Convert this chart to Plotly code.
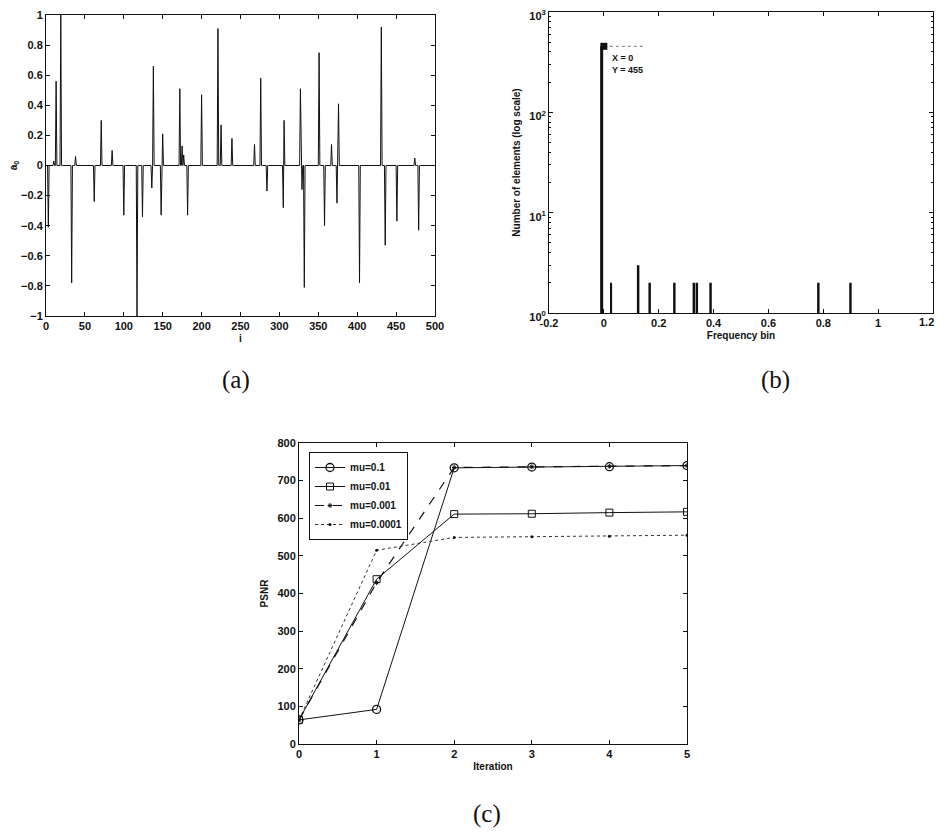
import numpy as np
import plotly.graph_objects as go

# ---------------- data ----------------
# (a) sparse signal a0 : spike indices and values
spike_idx = [3, 10, 13, 19, 33, 38, 62, 71, 85, 100, 117, 124, 136, 138, 148, 150,
             172, 175, 177, 182, 200, 221, 225, 239, 268, 276, 284, 305, 306, 327,
             329, 332, 351, 358, 367, 374, 376, 403, 431, 436, 451, 474, 479]
spike_val = [-0.41, 0.03, 0.56, 1.0, -0.78, 0.06, -0.24, 0.30, 0.10, -0.33, -1.0, -0.34,
             -0.15, 0.66, -0.33, 0.21, 0.51, 0.13, 0.07, -0.33, 0.47, 0.91, 0.27, 0.18,
             0.14, 0.58, -0.17, -0.28, 0.30, 0.51, -0.16, -0.81, 0.75, -0.40, 0.14,
             -0.25, 0.41, -0.78, 0.92, -0.53, -0.37, 0.05, -0.43]
n_samples = 500

# (b) histogram (log scale)
freq_bin = [-0.008, 0.027, 0.125, 0.167, 0.257, 0.328, 0.339, 0.389, 0.782, 0.899]
counts = [455, 2, 3, 2, 2, 2, 2, 2, 2, 2]
bar_w = [0.011, 0.006, 0.009, 0.009, 0.009, 0.009, 0.009, 0.009, 0.009, 0.009]
tip_x, tip_y = 0, 455
freq_ticks = [-0.2, 0, 0.2, 0.4, 0.6, 0.8, 1.0]
freq_last_tick = 1.2

# (c) PSNR vs iteration
iteration = [0, 1, 2, 3, 4, 5]
psnr_mu_1e1 = [64, 92, 734, 736, 737, 740]
psnr_mu_1e2 = [64, 438, 611, 612, 615, 617]
psnr_mu_1e3 = [64, 429, 735, 737, 738, 740]
psnr_mu_1e4 = [64, 515, 549, 551, 552, 555]

log_major = [1, 10, 100, 1000]
log_major_text = ["10<sup>0</sup>", "10<sup>1</sup>", "10<sup>2</sup>", "10<sup>3</sup>"]
log_minor = [m * d for d in (1, 10, 100) for m in range(2, 10)]

# ---------------- figure ----------------
OFF = 8                      # page body margin on each side
W, H = 944 - 2 * OFF, 838 - 2 * OFF
def px_x(a, b):
    return [(a - OFF) / W, (b - OFF) / W]
def px_y(top, bottom):
    return [1 - (bottom - OFF) / H, 1 - (top - OFF) / H]

a0 = np.zeros(n_samples + 1)
for i, v in zip(spike_idx, spike_val):
    a0[i] = v

BLK = "#111111"
tick_font = dict(family="Liberation Sans, Arial", size=11, color=BLK, weight="bold")
title_font = dict(family="Liberation Sans, Arial", size=10, color=BLK, weight="bold")

fig = go.Figure()

# (a)
fig.add_trace(go.Scatter(x=np.arange(n_samples + 1), y=a0, mode="lines",
                         line=dict(color=BLK, width=1), xaxis="x", yaxis="y",
                         showlegend=False))
# (b)
fig.add_trace(go.Bar(x=freq_bin, y=counts, width=bar_w, marker=dict(color=BLK, line=dict(width=0)),
                     xaxis="x2", yaxis="y2", showlegend=False))
fig.add_trace(go.Scatter(x=[tip_x], y=[tip_y], mode="markers",
                         marker=dict(symbol="square", size=7, color=BLK),
                         xaxis="x2", yaxis="y2", showlegend=False))
# (c)
fig.add_trace(go.Scatter(x=iteration, y=psnr_mu_1e1, name="mu=0.1", mode="lines+markers",
                         line=dict(color=BLK, width=1),
                         marker=dict(symbol="circle-open", size=8, color=BLK, line=dict(width=1.3)),
                         xaxis="x3", yaxis="y3"))
fig.add_trace(go.Scatter(x=iteration, y=psnr_mu_1e2, name="mu=0.01", mode="lines+markers",
                         line=dict(color=BLK, width=1),
                         marker=dict(symbol="square-open", size=7, color=BLK, line=dict(width=1)),
                         xaxis="x3", yaxis="y3"))
fig.add_trace(go.Scatter(x=iteration, y=psnr_mu_1e3, name="mu=0.001", mode="lines+markers",
                         line=dict(color=BLK, width=1.2, dash="dash"),
                         marker=dict(symbol="asterisk-open", size=4, color=BLK, line=dict(width=1)),
                         xaxis="x3", yaxis="y3"))
fig.add_trace(go.Scatter(x=iteration, y=psnr_mu_1e4, name="mu=0.0001", mode="lines+markers",
                         line=dict(color="#333333", width=1, dash="dot"),
                         marker=dict(symbol="circle", size=3, color=BLK),
                         xaxis="x3", yaxis="y3"))

common = dict(showline=True, linecolor=BLK, linewidth=1, mirror="ticks", ticks="inside",
              ticklen=4, tickcolor=BLK, showgrid=False, zeroline=False, tickfont=tick_font,
              automargin=False, ticklabeloverflow="allow")

fig.update_layout(
    width=W, height=H, autosize=False,
    margin=dict(l=0, r=0, t=0, b=0, autoexpand=False),
    paper_bgcolor="white", plot_bgcolor="white",
    xaxis=dict(domain=px_x(46, 435), range=[0, 500], dtick=50, anchor="y",
               title=dict(text="i", font=title_font, standoff=3), **common),
    yaxis=dict(domain=px_y(15, 316), range=[-1, 1], dtick=0.2, anchor="x",
               title=dict(text="a<sub>0</sub>", font=title_font, standoff=7), **common),
    xaxis2=dict(domain=px_x(549, 933), range=[-0.2, 1.2], anchor="y2",
                tickvals=freq_ticks + [freq_last_tick],
                ticktext=[f"{v:g}" for v in freq_ticks] + [" "],
                title=dict(text="Frequency bin", font=title_font, standoff=3), **common),
    yaxis2=dict(domain=px_y(12, 313), type="log", range=[0, 3], anchor="x2",
                tickvals=log_major, ticktext=log_major_text, ticklabelshift=4,
                minor=dict(tickvals=log_minor, ticks="inside", ticklen=2, tickcolor=BLK),
                title=dict(text="Number of elements (log scale)", font=title_font, standoff=6),
                **common),
    xaxis3=dict(domain=px_x(299, 687), range=[0, 5], dtick=1, anchor="y3",
                title=dict(text="Iteration", font=title_font, standoff=3), **common),
    yaxis3=dict(domain=px_y(443, 744), range=[0, 800], dtick=100, anchor="x3",
                title=dict(text="PSNR", font=title_font, standoff=6), **common),
    legend=dict(x=(309 - OFF) / W, y=1 - (452 - OFF) / H, xanchor="left", yanchor="top",
                bgcolor="white", bordercolor=BLK, borderwidth=1,
                font=dict(family="Liberation Sans, Arial", size=10, color=BLK, weight="bold"),
                itemwidth=30, tracegroupgap=0),
    showlegend=True,
)

# last x tick label of (b), kept inside the page edge
fig.add_annotation(x=freq_last_tick, y=0, xref="x2", yref="y2 domain",
                   text=f"{freq_last_tick:g}", showarrow=False, xanchor="right", yanchor="top",
                   xshift=3, yshift=-1, font=tick_font)

# datatip in (b)
fig.add_annotation(x=tip_x, y=np.log10(tip_y), xref="x2", yref="y2",
                   text="X = 0<br>Y = 455", showarrow=False, xanchor="left", yanchor="top",
                   xshift=6, yshift=-5, align="left",
                   font=dict(family="Liberation Sans, Arial", size=9, color=BLK, weight="bold"))
fig.add_shape(type="line", xref="x2", yref="y2", xsizemode="pixel", ysizemode="pixel",
              xanchor=tip_x, yanchor=tip_y, x0=6, x1=40, y0=-3, y1=-3,
              line=dict(color="#777777", width=1, dash="dot"))
fig.add_shape(type="line", xref="x2", yref="y2", xsizemode="pixel", ysizemode="pixel",
              xanchor=tip_x, yanchor=tip_y, x0=5, x1=5, y0=-3, y1=-34,
              line=dict(color="#999999", width=1, dash="dot"))

# panel labels
for lbl, cx, cy in [("(a)", 236, 380), ("(b)", 775, 380), ("(c)", 487, 814)]:
    fig.add_annotation(x=(cx - OFF) / W, y=1 - (cy - OFF) / H, xref="paper", yref="paper",
                       text=lbl, showarrow=False, xanchor="center", yanchor="middle",
                       font=dict(family="Liberation Serif, Times New Roman", size=25, color=BLK))

fig.write_html("out.html")
